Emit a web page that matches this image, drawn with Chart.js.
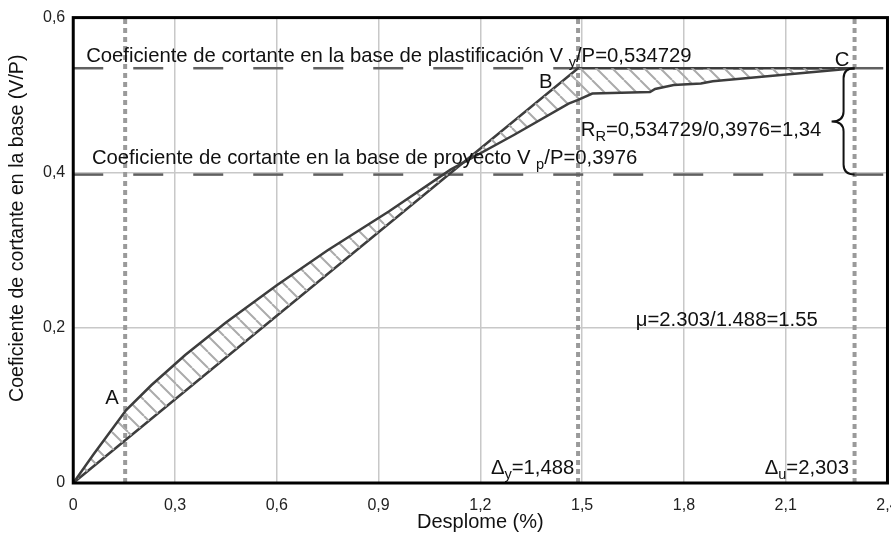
<!DOCTYPE html>
<html>
<head>
    <title>Curva de capacidad</title>
    <style>
        body { margin: 0; overflow: hidden; background: #fff; }
        #wrap { width: 912px; height: 535px; }
    </style>
</head>
<body>
    <div id="wrap"><canvas id="chart"></canvas></div>
    <script src="https://cdn.jsdelivr.net/npm/chart.js"></script>
    <script>
        // ticks
        const xTickValues = [0, 0.3, 0.6, 0.9, 1.2, 1.5, 1.8, 2.1, 2.4];
        const xTickLabels = ['0', '0,3', '0,6', '0,9', '1,2', '1,5', '1,8', '2,1', '2,4'];
        const yTickValues = [0, 0.2, 0.4, 0.6];
        const yTickLabels = ['0', '0,2', '0,4', '0,6'];

        // capacity curve
        const curveX = [0, 0.06, 0.156, 0.23, 0.33, 0.45, 0.6, 0.75, 0.93, 1.112, 1.30, 1.46, 1.488, 1.53, 1.70, 1.715, 1.77, 1.85, 1.885, 2.303];
        const curveY = [0, 0.037, 0.094, 0.126, 0.165, 0.207, 0.255, 0.300, 0.350, 0.404, 0.449, 0.489, 0.494, 0.502, 0.504, 0.508, 0.513, 0.515, 0.518, 0.534729];

        // idealised bilinear curve: origin, B, C
        const bilinX = [0, 1.488, 2.303];
        const bilinY = [0, 0.534729, 0.534729];

        const vyP = 0.534729;   // plastificacion
        const vpP = 0.3976;     // proyecto
        const dA = 0.153, dY = 1.488, dU = 2.303;
        const xMax = 2.4, yMax = 0.6;

        const font = '"Liberation Sans", Arial, sans-serif';
        const yTitle = 'Coeficiente de cortante en la base (V/P)';

        function hatch() {
            const s = 16;
            const c = document.createElement('canvas');
            c.width = s; c.height = s;
            const g = c.getContext('2d');
            g.strokeStyle = '#ababab';
            g.lineWidth = 2;
            g.beginPath();
            for (const k of [-s, 0, s]) { g.moveTo(k, 0); g.lineTo(k + s, s); }
            g.stroke();
            return g.createPattern(c, 'repeat');
        }
        const pat = hatch();

        const pts = (xs, ys) => xs.map((v, i) => ({ x: v, y: ys[i] }));
        const vline = v => [{ x: v, y: 0 }, { x: v, y: yMax }];
        const hline = v => [{ x: 0, y: v }, { x: xMax, y: v }];

        const notes = [
            { x: 0.038, y: 0.543, parts: [['Coeficiente de cortante en la base de plastificación V ', 0], ['y', 1], ['/P=0,534729', 0]] },
            { x: 0.055, y: 0.411, parts: [['Coeficiente de cortante en la base de proyecto V ', 0], ['p', 1], ['/P=0,3976', 0]] },
            { x: 1.393, y: 0.509, center: true, parts: [['B', 0]] },
            { x: 2.266, y: 0.537, center: true, parts: [['C', 0]] },
            { x: 0.114, y: 0.102, center: true, parts: [['A', 0]] },
            { x: 1.496, y: 0.447, parts: [['R', 0], ['R', 1], ['=0,534729/0,3976=1,34', 0]] },
            { x: 1.658, y: 0.203, parts: [['\u03bc=2.303/1.488=1.55', 0]] },
            { x: 1.231, y: 0.011, parts: [['\u0394', 0], ['y', 1], ['=1,488', 0]] },
            { x: 2.038, y: 0.011, parts: [['\u0394', 0], ['u', 1], ['=2,303', 0]] }
        ];

        const notesPlugin = {
            id: 'notes',
            afterDatasetsDraw(chart) {
                const { ctx, chartArea: a } = chart;
                const sx = chart.scales.x, sy = chart.scales.y;
                ctx.save();
                ctx.strokeStyle = '#000';
                ctx.lineWidth = 3;
                ctx.strokeRect(a.left, a.top, a.width, a.height);

                const size = 20.3;
                ctx.fillStyle = '#111';
                ctx.textBaseline = 'alphabetic';
                for (const n of notes) {
                    let px = sx.getPixelForValue(n.x);
                    const py = sy.getPixelForValue(n.y);
                    let w = 0;
                    for (const [t, sub] of n.parts) {
                        ctx.font = (sub ? size * 0.72 : size) + 'px ' + font;
                        w += ctx.measureText(t).width;
                    }
                    if (n.center) px -= w / 2;
                    for (const [t, sub] of n.parts) {
                        ctx.font = (sub ? size * 0.72 : size) + 'px ' + font;
                        ctx.fillText(t, px, py + (sub ? 5 : 0));
                        px += ctx.measureText(t).width;
                    }
                }

                // brace between the two shear levels
                const top = sy.getPixelForValue(vyP), bot = sy.getPixelForValue(vpP);
                const mid = (top + bot) / 2;
                const xr = sx.getPixelForValue(dU), xb = xr - 11, xt = xr - 23;
                ctx.strokeStyle = '#111';
                ctx.lineWidth = 2;
                ctx.beginPath();
                ctx.moveTo(xr, top);
                ctx.quadraticCurveTo(xb, top, xb, top + 10);
                ctx.lineTo(xb, mid - 10);
                ctx.quadraticCurveTo(xb, mid, xt, mid);
                ctx.quadraticCurveTo(xb, mid, xb, mid + 10);
                ctx.lineTo(xb, bot - 10);
                ctx.quadraticCurveTo(xb, bot, xr, bot);
                ctx.stroke();

                // y axis title, sits a little above the middle like the original
                ctx.translate(18, (a.top + a.bottom) / 2 - 22);
                ctx.rotate(-Math.PI / 2);
                ctx.font = '19.6px ' + font;
                ctx.textAlign = 'center';
                ctx.textBaseline = 'middle';
                ctx.fillText(yTitle, 0, 0);
                ctx.restore();
            }
        };

        const line = (data, color, width, dash, extra) => Object.assign({
            data, borderColor: color, borderWidth: width, borderDash: dash,
            pointRadius: 0, fill: false, tension: 0
        }, extra || {});

        new Chart(document.getElementById('chart'), {
            type: 'line',
            data: {
                datasets: [
                    line(pts(curveX, curveY), '#3d3d3d', 2.5, [], { fill: { target: 1, above: pat, below: pat } }),
                    line(pts(bilinX, bilinY), '#3d3d3d', 2.5, []),
                    line(hline(vyP), '#606060', 2.5, [30, 30]),
                    line(hline(vpP), '#606060', 2.5, [30, 30]),
                    line(vline(dA), '#9a9a9a', 4, [5, 4]),
                    line(vline(dY), '#9a9a9a', 4, [5, 4]),
                    line(vline(dU), '#9a9a9a', 4, [5, 4])
                ]
            },
            options: {
                responsive: true,
                maintainAspectRatio: false,
                animation: false,
                layout: { padding: { top: 8, left: 35, right: 0, bottom: 3 } },
                plugins: { legend: { display: false }, tooltip: { enabled: false } },
                scales: {
                    x: {
                        type: 'linear', min: 0, max: xMax,
                        afterBuildTicks: ax => { ax.ticks = xTickValues.map(v => ({ value: v })); },
                        ticks: { callback: (v, i) => xTickLabels[i], color: '#222', font: { family: font, size: 16 }, padding: 13.4, maxRotation: 0 },
                        grid: { color: '#c8c8c8', lineWidth: 1.5, drawTicks: false, tickLength: 0 },
                        border: { display: false },
                        title: { display: true, text: 'Desplome (%)', color: '#111', font: { family: font, size: 20, lineHeight: 1 }, padding: { top: -17, bottom: 0 } }
                    },
                    y: {
                        type: 'linear', min: 0, max: yMax,
                        afterBuildTicks: ax => { ax.ticks = yTickValues.map(v => ({ value: v })); },
                        ticks: { callback: (v, i) => yTickLabels[i], color: '#222', font: { family: font, size: 16 }, padding: 8 },
                        grid: { color: '#c8c8c8', lineWidth: 1.5, drawTicks: false, tickLength: 0 },
                        border: { display: false }
                    }
                }
            },
            plugins: [notesPlugin]
        });
    </script>
</body>
</html>
